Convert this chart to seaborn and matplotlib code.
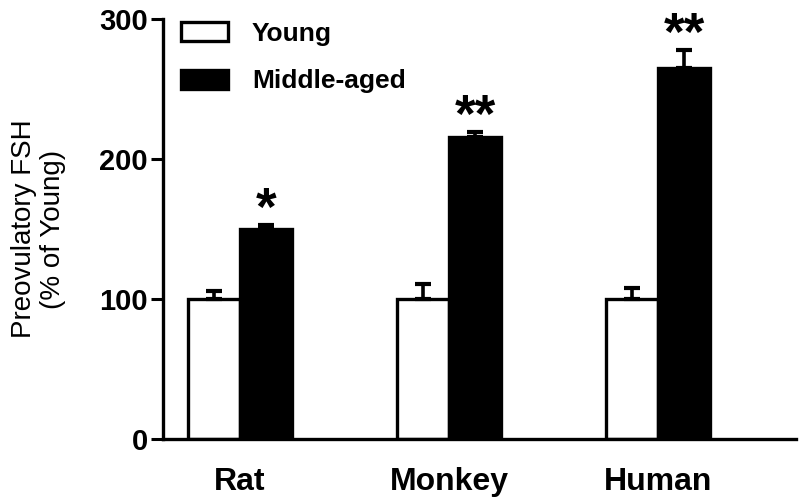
import matplotlib
matplotlib.use("Agg")
import matplotlib.pyplot as plt
import seaborn as sns
import pandas as pd
import numpy as np

species = ["Rat", "Monkey", "Human"]
groups = ["Young", "Middle-aged"]
young_mean = [100, 100, 100]
young_sem = [6, 11, 8]
middle_mean = [150, 216, 265]
middle_sem = [3, 3, 13]
stars = ["*", "**", "**"]

sns.set_style("ticks")
plt.rcParams["font.family"] = ["Liberation Sans", "DejaVu Sans"]
# pure black text and axes instead of seaborn's dark grey
for key in ["text.color", "axes.labelcolor", "xtick.color", "ytick.color",
            "axes.edgecolor"]:
    plt.rcParams[key] = "black"

df = pd.DataFrame({
    "species": species * 2,
    "group": [groups[0]] * 3 + [groups[1]] * 3,
    "fsh": young_mean + middle_mean,
    "sem": young_sem + middle_sem,
})

fig = plt.figure(figsize=(8, 5.01), dpi=100)
ax = fig.add_axes([0.204, 0.124, 0.791, 0.838])

sns.barplot(data=df, x="species", y="fsh", hue="group", order=species,
            hue_order=groups, palette=["white", "black"], width=0.5,
            edgecolor="black", linewidth=2.4, errorbar=None, ax=ax)

# upper-only error bars, one per bar
for cont, g in zip(ax.containers, groups):
    sub = df[df["group"] == g].set_index("species").loc[species]
    xs = [p.get_x() + p.get_width() / 2 for p in cont]
    ax.errorbar(xs, sub["fsh"], yerr=[np.zeros(3), sub["sem"]], fmt="none",
                ecolor="black", elinewidth=2.6, capsize=6, capthick=3,
                zorder=1)

# significance stars above middle-aged bars
mid = ax.containers[1]
for p, m, s, st in zip(mid, middle_mean, middle_sem, stars):
    ax.text(p.get_x() + p.get_width() / 2, m + s + 10, st, ha="center",
            va="center", fontsize=38, fontweight="bold")

ax.set_ylim(0, 300)
ax.set_xlim(-0.368, 2.66)
ax.set_yticks([0, 100, 200, 300])
ax.set_xlabel("")
ax.set_ylabel("Preovulatory FSH\n(% of Young)", fontsize=20, labelpad=24,
              linespacing=1.15)
ax.tick_params(axis="y", length=9, width=2.2, labelsize=21, pad=2)
ax.tick_params(axis="x", length=0, labelsize=23, pad=20)
for lab in ax.get_xticklabels() + ax.get_yticklabels():
    lab.set_fontweight("bold")

for side in ["top", "right"]:
    ax.spines[side].set_visible(False)
for side in ["left", "bottom"]:
    ax.spines[side].set_linewidth(2.4)

ax.legend(frameon=False, loc="upper left", bbox_to_anchor=(0.007, 1.025),
          prop={"weight": "bold", "size": 19}, handlelength=1.8,
          handleheight=0.76, handletextpad=0.9, labelspacing=0.9,
          borderpad=0)

fig.savefig("out.png", dpi=100)
